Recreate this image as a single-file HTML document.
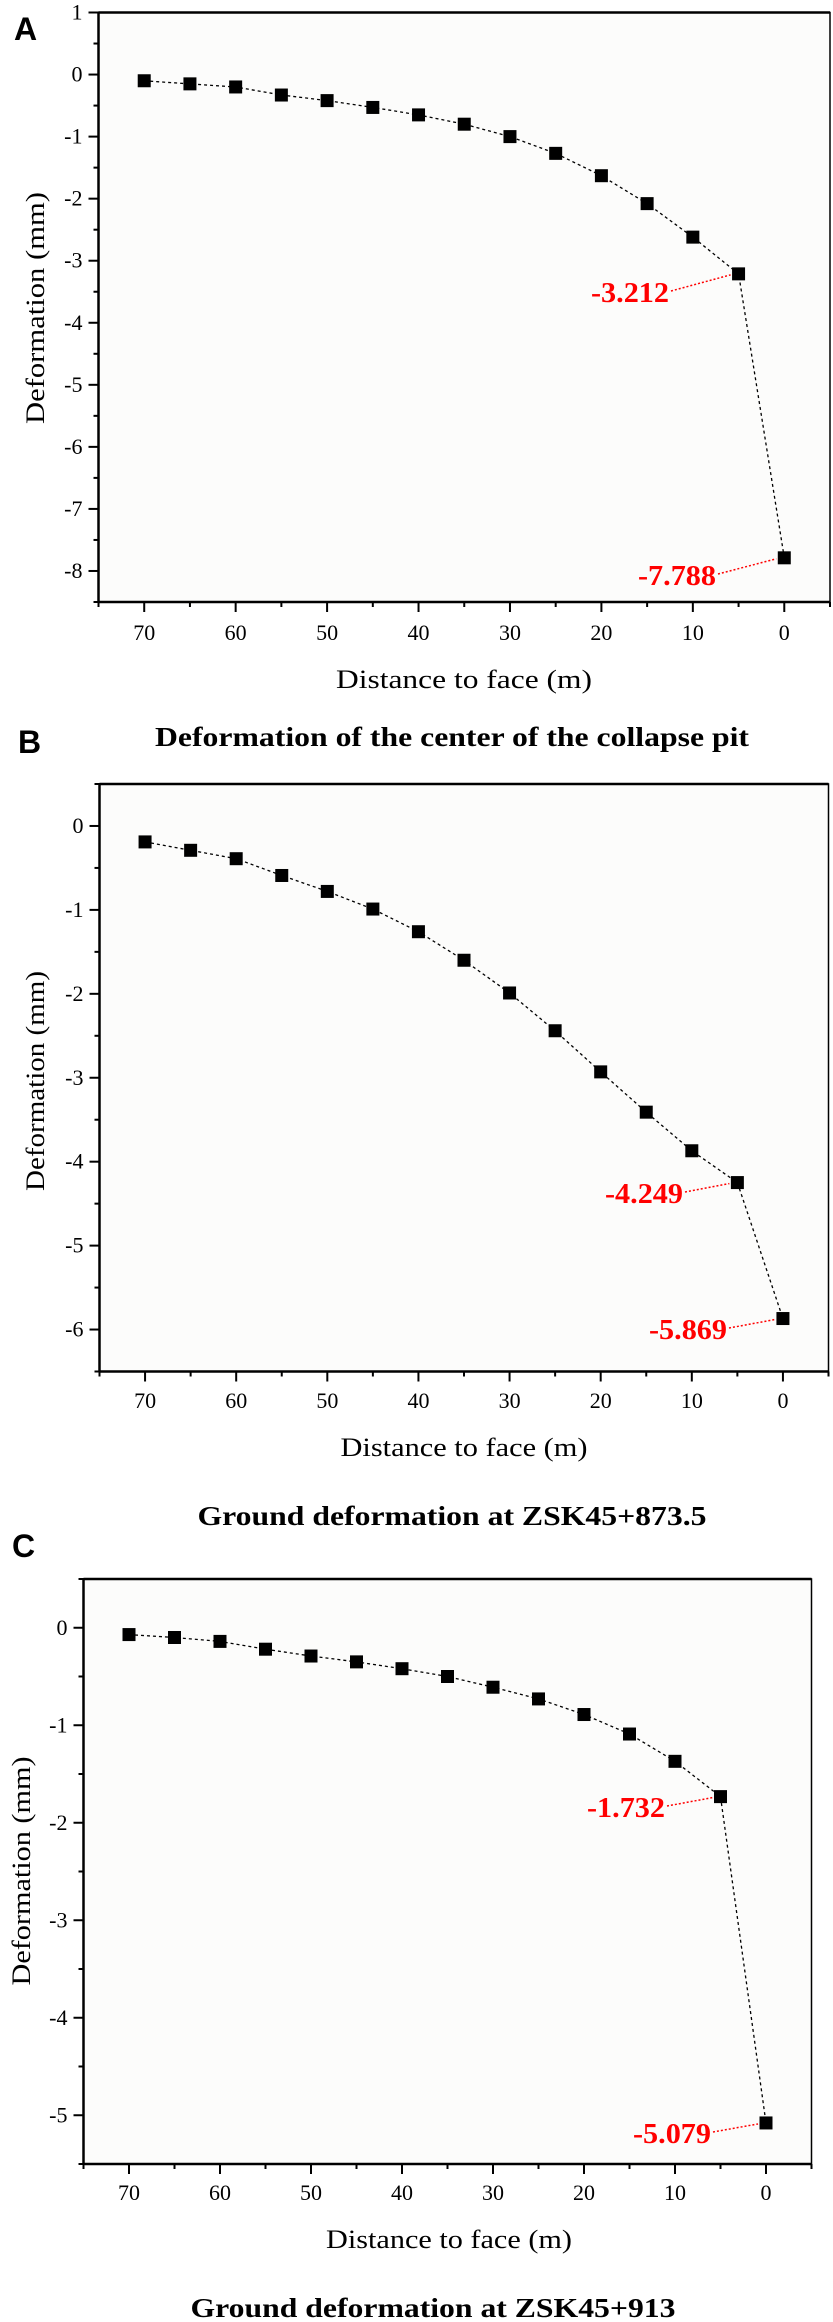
<!DOCTYPE html>
<html><head><meta charset="utf-8"><style>
html,body{margin:0;padding:0;background:#fff}
svg{display:block}
text{font-family:"Liberation Serif",serif}
.tick{font-size:22px}
.ttl{font-size:26px}
.big{font-size:27px;font-weight:bold}
.red{font-size:28px;font-weight:bold;fill:#f00}
.let{font-family:"Liberation Sans",sans-serif;font-weight:bold;font-size:32px}
</style></head><body>
<svg id="fig" width="833" height="2322" viewBox="0 0 833 2322" xmlns="http://www.w3.org/2000/svg"></svg>
<script>
const distances=[70,65,60,55,50,45,40,35,30,25,20,15,10,5,0];
const seriesA=[-0.1,-0.15,-0.2,-0.33,-0.42,-0.53,-0.65,-0.8,-1.0,-1.27,-1.63,-2.08,-2.62,-3.212,-7.788];
const seriesB=[-0.19,-0.29,-0.39,-0.59,-0.78,-0.99,-1.26,-1.6,-1.99,-2.44,-2.93,-3.41,-3.87,-4.249,-5.869];
const seriesC=[-0.07,-0.1,-0.14,-0.22,-0.29,-0.35,-0.42,-0.5,-0.61,-0.73,-0.89,-1.09,-1.37,-1.732,-5.079];
const xTickLabels=[70,60,50,40,30,20,10,0];
const yTicksA=[1,0,-1,-2,-3,-4,-5,-6,-7,-8];
const yTicksB=[0,-1,-2,-3,-4,-5,-6];
const yTicksC=[0,-1,-2,-3,-4,-5];
const annA=["-3.212","-7.788"],annB=["-4.249","-5.869"],annC=["-1.732","-5.079"];

const NS="http://www.w3.org/2000/svg";
const fig=document.getElementById('fig');
function mk(tag,attrs,parent,txt){const e=document.createElementNS(NS,tag);for(const k in attrs)e.setAttribute(k,attrs[k]);if(txt!==undefined)e.textContent=txt;(parent||fig).appendChild(e);return e;}

function panel(c){
  const g=mk('g',{});
  
  
  const X=v=>c.L+(c.xmax-v)/(c.xmax-c.xmin)*(c.R-c.L);
  const Y=v=>c.T+(c.ymax-v)/(c.ymax-c.ymin)*(c.B-c.T);
  const bg=mk('rect',{x:c.L,y:c.T,width:c.R-c.L,height:c.B-c.T,fill:'#fcfcfb',stroke:'#000','stroke-width':1.5},g);
  
  
  mk('line',{x1:c.L,y1:c.T,x2:c.R,y2:c.T,stroke:'#000','stroke-width':2.5},g);
  mk('line',{x1:c.L,y1:c.T,x2:c.L,y2:c.B,stroke:'#000','stroke-width':2.5},g);
  mk('line',{x1:c.L,y1:c.B,x2:c.R,y2:c.B,stroke:'#000','stroke-width':2.5},g);
  for(let v=c.xmax;v>=c.xmin;v-=5){const maj=v%10===0;mk('line',{x1:X(v),y1:c.B,x2:X(v),y2:c.B+(maj?10:5),stroke:'#000','stroke-width':2},g);}
  xTickLabels.forEach(v=>{const t=mk('text',{x:X(v),y:c.xl,'text-anchor':'middle',class:'tick'},g,String(v));});
  for(let v=c.ymax;v>=c.ymin-1e-9;v-=0.5){const maj=Math.abs(v-Math.round(v))<1e-9;mk('line',{x1:c.L,y1:Y(v),x2:c.L-(maj?10:5),y2:Y(v),stroke:'#000','stroke-width':2},g);}
  c.yt.forEach(v=>{const t=mk('text',{x:c.L-16,y:Y(v)+7,'text-anchor':'end',class:'tick'},g,String(v));});
  const yt=mk('text',{x:0,y:0,'text-anchor':'middle',class:'ttl',transform:`translate(${c.ytx},${c.yty}) rotate(-90)`,textLength:c.ytw,lengthAdjust:'spacingAndGlyphs'},g,'Deformation (mm)');
  
  const xt=mk('text',{x:c.xtx,y:c.xty,'text-anchor':'middle',class:'ttl',textLength:c.xtw,lengthAdjust:'spacingAndGlyphs'},g,c.xtxt);
  
  const tt=mk('text',{x:c.tx,y:c.ty,'text-anchor':'middle',class:'big',textLength:c.tw,lengthAdjust:'spacingAndGlyphs'},g,c.title);
  
  const lt=mk('text',{x:c.lx,y:c.ly,class:'let'},g,c.letter);
  
  const pts=distances.map((d,i)=>X(d).toFixed(1)+','+Y(c.data[i]).toFixed(1)).join(' ');
  const pl=mk('polyline',{points:pts,fill:'none',stroke:'#000','stroke-width':1.3,'stroke-dasharray':'3,3'},g);
  
  distances.forEach((d,i)=>{const r=mk('rect',{x:X(d)-6.5,y:Y(c.data[i])-6.5,width:13,height:13,fill:'#000'},g);});
  c.ann.forEach((txt,k)=>{
    const i=distances.length-2+k;const a=c.anPos[k];
    const t=mk('text',{x:a[0],y:a[1],'text-anchor':'end',class:'red',textLength:78,lengthAdjust:'spacingAndGlyphs'},g,txt);
    
    const l=mk('line',{x1:a[0]+2,y1:a[1]-11,x2:X(distances[i])-8,y2:Y(c.data[i])+1,stroke:'#f00','stroke-width':1.5,'stroke-dasharray':'2,2'},g);
    
  });
}
panel({id:'a',L:98.5,R:830,T:12.5,B:602,xmax:75,xmin:-5,ymax:1,ymin:-8.5,data:seriesA,yt:yTicksA,xl:640,
  ytx:44,yty:308,ytw:232,xtx:464,xty:688,xtw:256,xtxt:'Distance to  face (m)',tx:452,ty:746,tw:594,
  title:'Deformation of the center of the collapse pit',letter:'A',lx:14,ly:40,ann:annA,anPos:[[669,302],[716,585]]});
panel({id:'b',L:99.5,R:828.5,T:784,B:1371.5,xmax:75,xmin:-5,ymax:0.5,ymin:-6.5,data:seriesB,yt:yTicksB,xl:1408,
  ytx:44,yty:1081,ytw:220,xtx:464,xty:1456,xtw:247,xtxt:'Distance to face (m)',tx:452,ty:1525,tw:509,
  title:'Ground deformation at ZSK45+873.5',letter:'B',lx:18,ly:753,ann:annB,anPos:[[683,1203],[727,1339]]});
panel({id:'c',L:83.5,R:811.5,T:1579,B:2164,xmax:75,xmin:-5,ymax:0.5,ymin:-5.5,data:seriesC,yt:yTicksC,xl:2200,
  ytx:30,yty:1871,ytw:229,xtx:449,xty:2248,xtw:246,xtxt:'Distance to face (m)',tx:433,ty:2317,tw:485,
  title:'Ground deformation at ZSK45+913',letter:'C',lx:12,ly:1557,ann:annC,anPos:[[665,1817],[711,2143]]});
</script>
</body></html>
